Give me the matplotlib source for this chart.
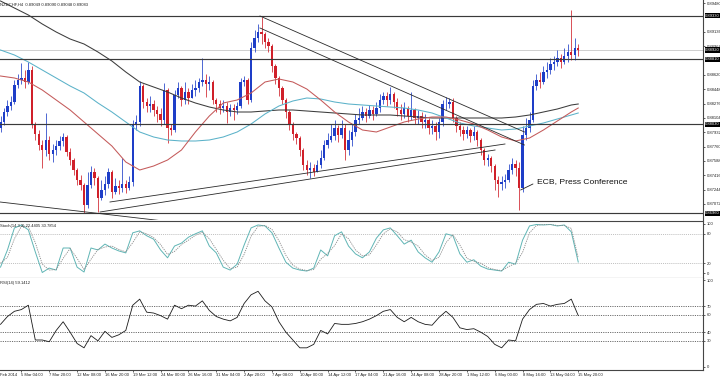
import matplotlib
matplotlib.use("Agg")
import matplotlib.pyplot as plt

plt.rcParams['font.family'] = ['Liberation Sans', 'DejaVu Sans']

# ---------------- data ----------------
title = "NZDCHF,H4  0.89049 0.89090 0.89048 0.89083"
stoch_title = "Stoch(14,3,3) 22.4405 30.7854"
rsi_title = "RSI(14) 59.1412"

candle_bars = list(range(0, 334, 2))
first_open = 0.87984
closes = [
    0.88056, 0.88176, 0.88248, 0.88296, 0.88500, 0.88560, 0.88584, 0.88536, 0.88680, 0.88032,
    0.87912, 0.87780, 0.87720, 0.87840, 0.87672, 0.87720, 0.87768, 0.87828, 0.87876, 0.87696,
    0.87600, 0.87480, 0.87360, 0.87300, 0.87060, 0.87300, 0.87456, 0.87384, 0.87144, 0.87240,
    0.87312, 0.87456, 0.87216, 0.87288, 0.87264, 0.87312, 0.87264, 0.87336, 0.88020, 0.88056,
    0.88488, 0.88296, 0.88248, 0.88272, 0.88200, 0.88152, 0.88080, 0.88440, 0.87984, 0.87960,
    0.88380, 0.88464, 0.88320, 0.88416, 0.88344, 0.88440, 0.88464, 0.88536, 0.88560, 0.88512,
    0.88536, 0.88320, 0.88272, 0.88224, 0.88248, 0.88176, 0.88224, 0.88200, 0.88248, 0.88536,
    0.88560, 0.88320, 0.88944, 0.89064, 0.89136, 0.89112, 0.89016, 0.88968, 0.88728, 0.88584,
    0.88464, 0.88320, 0.88176, 0.88032, 0.87912, 0.87864, 0.87720, 0.87540, 0.87480, 0.87504,
    0.87456, 0.87540, 0.87624, 0.87780, 0.87840, 0.87888, 0.87984, 0.87900, 0.87984, 0.87720,
    0.87840, 0.87936, 0.88080, 0.88104, 0.88176, 0.88128, 0.88200, 0.88152, 0.88224, 0.88320,
    0.88368, 0.88320, 0.88392, 0.88296, 0.88200, 0.88152, 0.88224, 0.88128, 0.88200, 0.88104,
    0.88128, 0.88056, 0.88080, 0.87984, 0.88008, 0.87936, 0.88056, 0.88272, 0.88272, 0.88296,
    0.88104, 0.88008, 0.87960, 0.87912, 0.87960, 0.87888, 0.87936, 0.87840, 0.87720, 0.87600,
    0.87624, 0.87528, 0.87360, 0.87312, 0.87336, 0.87360, 0.87480, 0.87552, 0.87504, 0.87264,
    0.87900, 0.87984, 0.88080, 0.88488, 0.88560, 0.88536, 0.88656, 0.88680, 0.88752, 0.88776,
    0.88824, 0.88776, 0.88848, 0.88896, 0.88860, 0.88944, 0.88920]
highs = [
    0.88128, 0.88224, 0.88320, 0.88368, 0.88560, 0.88632, 0.88764, 0.88680, 0.88776, 0.88728,
    0.88056, 0.87960, 0.87840, 0.88164, 0.87888, 0.87792, 0.87840, 0.87888, 0.87924, 0.87900,
    0.87744, 0.87624, 0.87504, 0.87420, 0.87324, 0.87456, 0.87528, 0.87504, 0.87408, 0.87360,
    0.87408, 0.87504, 0.87480, 0.87384, 0.87360, 0.87624, 0.87360, 0.87408, 0.88080, 0.88140,
    0.88548, 0.88512, 0.88344, 0.88368, 0.88320, 0.88248, 0.88224, 0.88524, 0.88464, 0.88032,
    0.88440, 0.88536, 0.88488, 0.88536, 0.88464, 0.88512, 0.88560, 0.88584, 0.88824, 0.88632,
    0.88608, 0.88560, 0.88344, 0.88320, 0.88320, 0.88296, 0.88272, 0.88272, 0.88296, 0.88584,
    0.88608, 0.88584, 0.89016, 0.89160, 0.89232, 0.89316, 0.89136, 0.89064, 0.88992, 0.88752,
    0.88608, 0.88488, 0.88344, 0.88200, 0.88056, 0.87936, 0.87888, 0.87744, 0.87600, 0.87576,
    0.87552, 0.87600, 0.87720, 0.87840, 0.87924, 0.88032, 0.88080, 0.88020, 0.88080, 0.88032,
    0.87960, 0.88032, 0.88152, 0.88224, 0.88248, 0.88224, 0.88260, 0.88248, 0.88296, 0.88392,
    0.88416, 0.88416, 0.88476, 0.88416, 0.88344, 0.88272, 0.88296, 0.88248, 0.88416, 0.88224,
    0.88200, 0.88176, 0.88152, 0.88104, 0.88080, 0.88056, 0.88104, 0.88320, 0.88356, 0.88344,
    0.88344, 0.88128, 0.88056, 0.88008, 0.88008, 0.87984, 0.88008, 0.87960, 0.87864, 0.87744,
    0.87672, 0.87648, 0.87552, 0.87408, 0.87408, 0.87432, 0.87552, 0.87624, 0.87600, 0.87576,
    0.88008, 0.88104, 0.88176, 0.88560, 0.88632, 0.88656, 0.88728, 0.88776, 0.88824, 0.88848,
    0.88920, 0.88872, 0.88944, 0.88992, 0.89400, 0.89064, 0.88992]
lows = [
    0.87936, 0.88020, 0.88128, 0.88200, 0.88272, 0.88464, 0.88512, 0.88464, 0.88512, 0.87984,
    0.87840, 0.87720, 0.87504, 0.87648, 0.87600, 0.87576, 0.87660, 0.87720, 0.87768, 0.87648,
    0.87540, 0.87420, 0.87300, 0.87240, 0.86964, 0.87024, 0.87264, 0.87300, 0.86976, 0.87120,
    0.87180, 0.87264, 0.87144, 0.87192, 0.87192, 0.87216, 0.87204, 0.87240, 0.87288, 0.87960,
    0.88008, 0.88224, 0.88176, 0.88176, 0.88128, 0.88056, 0.88008, 0.88032, 0.87804, 0.87900,
    0.87936, 0.88344, 0.88248, 0.88272, 0.88272, 0.88344, 0.88368, 0.88416, 0.88488, 0.88356,
    0.88440, 0.88272, 0.88176, 0.88152, 0.88176, 0.88044, 0.88128, 0.88080, 0.88152, 0.88224,
    0.88488, 0.88272, 0.88296, 0.88896, 0.89016, 0.88992, 0.88944, 0.88896, 0.88656, 0.88512,
    0.88368, 0.88272, 0.88104, 0.87960, 0.87840, 0.87792, 0.87648, 0.87480, 0.87420, 0.87384,
    0.87408, 0.87456, 0.87504, 0.87600, 0.87744, 0.87816, 0.87840, 0.87816, 0.87864, 0.87600,
    0.87660, 0.87768, 0.87888, 0.88032, 0.88080, 0.88056, 0.88104, 0.88080, 0.88128, 0.88176,
    0.88272, 0.88248, 0.88272, 0.88224, 0.88128, 0.88080, 0.88104, 0.88056, 0.88080, 0.88032,
    0.88032, 0.87984, 0.87984, 0.87912, 0.87912, 0.87840, 0.87864, 0.88008, 0.88200, 0.88224,
    0.88056, 0.87936, 0.87888, 0.87840, 0.87864, 0.87816, 0.87840, 0.87768, 0.87660, 0.87540,
    0.87528, 0.87456, 0.87240, 0.87156, 0.87240, 0.87264, 0.87336, 0.87432, 0.87408, 0.87000,
    0.87216, 0.87840, 0.87936, 0.88056, 0.88440, 0.88464, 0.88512, 0.88584, 0.88632, 0.88680,
    0.88728, 0.88704, 0.88752, 0.88776, 0.88800, 0.88800, 0.88848]

ma_bars = list(range(0, 329, 8)) + [332]
ma_slow = [0.89508, 0.89424, 0.89340, 0.89232, 0.89136, 0.89052, 0.88992, 0.88896, 0.88788, 0.88656,
           0.88536, 0.88476, 0.88416, 0.88344, 0.88284, 0.88236, 0.88200, 0.88176, 0.88176, 0.88188,
           0.88200, 0.88200, 0.88188, 0.88176, 0.88164, 0.88152, 0.88140, 0.88140, 0.88140, 0.88128,
           0.88116, 0.88104, 0.88104, 0.88104, 0.88104, 0.88104, 0.88104, 0.88116, 0.88140, 0.88176,
           0.88212, 0.88260, 0.88272]
ma_mid = [0.88920, 0.88860, 0.88776, 0.88680, 0.88584, 0.88488, 0.88404, 0.88284, 0.88176, 0.88056,
          0.87936, 0.87876, 0.87840, 0.87828, 0.87828, 0.87840, 0.87876, 0.87936, 0.88032, 0.88152,
          0.88248, 0.88308, 0.88344, 0.88332, 0.88296, 0.88272, 0.88260, 0.88248, 0.88236, 0.88224,
          0.88200, 0.88164, 0.88104, 0.88044, 0.88008, 0.87984, 0.87960, 0.87972, 0.88008, 0.88044,
          0.88092, 0.88140, 0.88164]
ma_fast = [0.88608, 0.88584, 0.88536, 0.88440, 0.88320, 0.88200, 0.88056, 0.87912, 0.87768, 0.87576,
           0.87480, 0.87528, 0.87600, 0.87720, 0.87936, 0.88128, 0.88284, 0.88320, 0.88404, 0.88536,
           0.88572, 0.88536, 0.88452, 0.88320, 0.88176, 0.88056, 0.87960, 0.87936, 0.87996, 0.88056,
           0.88092, 0.88116, 0.88116, 0.88080, 0.88032, 0.87960, 0.87876, 0.87828, 0.87864, 0.87960,
           0.88068, 0.88176, 0.88224]

ind_bars = list(range(0, 333, 4))
stoch_main = [12, 47, 92, 98, 88, 43, 1, 10, 6, 51, 51, 12, 2, 51, 47, 59, 51, 45, 41, 82,
              86, 76, 69, 47, 31, 55, 61, 73, 80, 86, 55, 41, 12, 6, 18, 57, 92, 98, 96, 82,
              51, 22, 10, 6, 4, 10, 47, 35, 76, 84, 55, 39, 31, 43, 71, 88, 92, 76, 59, 67,
              43, 31, 22, 43, 80, 76, 39, 22, 27, 14, 8, 6, 4, 22, 18, 67, 96, 99, 98, 99,
              96, 98, 84, 22.4]
stoch_signal = [20, 32, 70, 95, 94, 62, 18, 6, 7, 30, 50, 30, 7, 28, 48, 53, 55, 48, 43, 62,
                84, 80, 72, 58, 38, 44, 58, 67, 77, 83, 70, 48, 26, 9, 12, 38, 75, 95, 97, 89,
                66, 36, 16, 8, 5, 7, 28, 40, 56, 80, 70, 47, 35, 37, 57, 80, 90, 84, 68, 63,
                55, 37, 26, 32, 62, 78, 57, 30, 24, 20, 11, 7, 5, 13, 20, 42, 82, 97, 99, 99,
                97, 97, 91, 30.8]
rsi = [49, 58, 64, 66, 71, 31, 31, 29, 42, 52, 40, 27, 22, 36, 30, 41, 34, 37, 42, 71,
       78, 63, 62, 59, 55, 71, 67, 71, 70, 76, 65, 58, 55, 53, 57, 73, 83, 87, 76, 69,
       52, 40, 31, 22, 22, 26, 42, 38, 50, 49, 49, 50, 52, 55, 59, 64, 66, 57, 52, 57,
       52, 49, 48, 57, 64, 57, 45, 43, 44, 40, 35, 26, 22, 31, 30, 55, 66, 72, 73, 70,
       72, 73, 78, 59.1]

hlines = [0.89330, 0.88810, 0.88030, 0.86960]
bid = 0.88920
trendlines = [
    ((149.1, 0.89328), (301.1, 0.87936)),
    ((149.1, 0.89184), (301.1, 0.87780)),
    ((62.9, 0.87096), (289.9, 0.87792)),
    ((57.2, 0.86976), (284.2, 0.87720)),
    ((-0.3, 0.87096), (91.7, 0.86873)),
]
event_text = "ECB, Press Conference"
event_point = (298.9, 0.87240)
event_text_pos = (308.3, 0.87336)

# visible price scale labels (those under the highlighted boxes are hidden)
price_ticks = [0.89480, 0.89136, 0.88964, 0.88620, 0.88448, 0.88276,
               0.88104, 0.87932, 0.87760, 0.87588, 0.87416, 0.87244, 0.87072]
stoch_ticks = [0, 20, 80, 100]
stoch_levels = [20, 80]
rsi_ticks = [0, 30, 40, 60, 70, 100]
rsi_levels = [30, 40, 60, 70]

first_time_label = "Feb 2014"
time_bars = list(range(12, 333, 16))
time_labels = ["5 Mar 04:00", "7 Mar 20:00", "12 Mar 08:00", "16 Mar 20:00", "19 Mar 12:00",
               "24 Mar 00:00", "26 Mar 16:00", "31 Mar 04:00", "2 Apr 20:00", "7 Apr 08:00",
               "10 Apr 00:00", "14 Apr 12:00", "17 Apr 04:00", "21 Apr 16:00", "24 Apr 08:00",
               "28 Apr 20:00", "1 May 12:00", "6 May 00:00", "8 May 16:00", "13 May 04:00",
               "15 May 20:00"]

# ---------------- figure ----------------
W, H = 720, 377
fig = plt.figure(figsize=(7.2, 3.77), dpi=100)
fig.patch.set_facecolor('white')


def px_axes(x0, y0, x1, y1):
    return fig.add_axes([x0 / W, 1 - y1 / H, (x1 - x0) / W, (y1 - y0) / H])


ax = px_axes(0, 0, 703, 220)
ast = px_axes(0, 221, 703, 278)
ars = px_axes(0, 278, 703, 370)

XL = (-0.29, 403.7)
SPC = '#454545'
FS = 3.0
BULL = '#1e3ec8'
BEAR = '#d0202a'

for a in (ax, ast, ars):
    a.set_xlim(*XL)
    a.set_facecolor('white')
    a.spines['left'].set_visible(False)
    for s in ('right', 'top', 'bottom'):
        a.spines[s].set_color(SPC)
        a.spines[s].set_linewidth(0.8)
    a.yaxis.tick_right()
    a.tick_params(axis='y', labelsize=FS, length=1.5, width=0.5, pad=1,
                  colors='#202020')
ax.spines['top'].set_visible(False)
ax.spines['bottom'].set_visible(False)
ars.spines['top'].set_visible(False)
ax.set_xticks([])
ast.set_xticks([])

# ---- main price panel ----
ax.set_ylim(0.86880, 0.89520)
opens = [first_open] + closes[:-1]
for b, o, c, h, l in zip(candle_bars, opens, closes, highs, lows):
    col = BULL if c >= o else BEAR
    ax.vlines(b, l, h, color=col, lw=0.55, zorder=2)
    bot = min(o, c)
    hgt = max(abs(c - o), 0.00003)
    ax.bar(b, hgt, width=1.35, bottom=bot, color=col, linewidth=0, zorder=2)

ax.plot(ma_bars, ma_slow, color='#3c3c3c', lw=0.75, zorder=3)
ax.plot(ma_bars, ma_mid, color='#5bb2c9', lw=0.75, zorder=3)
ax.plot(ma_bars, ma_fast, color='#c45a5a', lw=0.75, zorder=3)

ax.axhline(bid, color='#cfcfcf', lw=0.7, zorder=1)
for v in hlines:
    ax.axhline(v, color='#3a3a3a', lw=0.85, zorder=4)
for (b0, p0), (b1, p1) in trendlines:
    ax.plot([b0, b1], [p0, p1], color='#2a2a2a', lw=0.6, zorder=4)

ax.set_yticks(price_ticks)
ax.set_yticklabels([f"{v:.5f}" for v in price_ticks])

for v in hlines + [bid]:
    ax.text(1.003, v, f"{v:.5f}", transform=ax.get_yaxis_transform(), fontsize=FS,
            color='white', va='center', ha='left', clip_on=False, zorder=10,
            bbox=dict(facecolor='black', edgecolor='none', pad=0.4))

ax.annotate(event_text, xy=event_point, xytext=event_text_pos, textcoords='data',
            fontsize=6.1, va='center', ha='left', color='#111111', zorder=6,
            arrowprops=dict(arrowstyle='-', color='#202020', lw=0.6, shrinkA=1.0,
                            shrinkB=0, relpos=(0, 0.5)))

# ---- stochastic ----
ast.set_ylim(-10.2, 106.1)
for v in stoch_levels:
    ast.axhline(v, color='#a8a8a8', lw=0.5, ls=(0, (1.5, 1.5)))
ast.plot(ind_bars, stoch_main, color='#5fb5b5', lw=0.7)
ast.plot(ind_bars, stoch_signal, color='#8a8a8a', lw=0.6, ls=(0, (1.5, 1.2)))
ast.set_yticks(stoch_ticks)
ast.set_yticklabels([str(v) for v in stoch_ticks])

# ---- RSI ----
ars.set_ylim(-3.5, 102.3)
for v in rsi_levels:
    ars.axhline(v, color='#444444', lw=0.55, ls=(0, (1.5, 1.5)))
ars.plot(ind_bars, rsi, color='#1a1a1a', lw=0.6)
ars.set_yticks(rsi_ticks)
ars.set_yticklabels([str(v) for v in rsi_ticks])

ars.set_xticks(time_bars)
ars.set_xticklabels(time_labels, ha='left')
ars.tick_params(axis='x', labelsize=FS, length=1.5, width=0.5, pad=1, colors='#202020')

# ---- texts ----
fig.text(0.5 / W, 1 - 373.2 / H, first_time_label, fontsize=FS, va='top', ha='left',
         color='#202020')
fig.text(0.5 / W, 1 - 4.5 / H, title, fontsize=FS, va='center', ha='left', color='#202020')
fig.text(0.5 / W, 1 - 225.5 / H, stoch_title, fontsize=FS, va='center', ha='left',
         color='#202020')
fig.text(0.5 / W, 1 - 283 / H, rsi_title, fontsize=FS, va='center', ha='left',
         color='#202020')

fig.savefig("out.png", dpi=100, facecolor='white')
